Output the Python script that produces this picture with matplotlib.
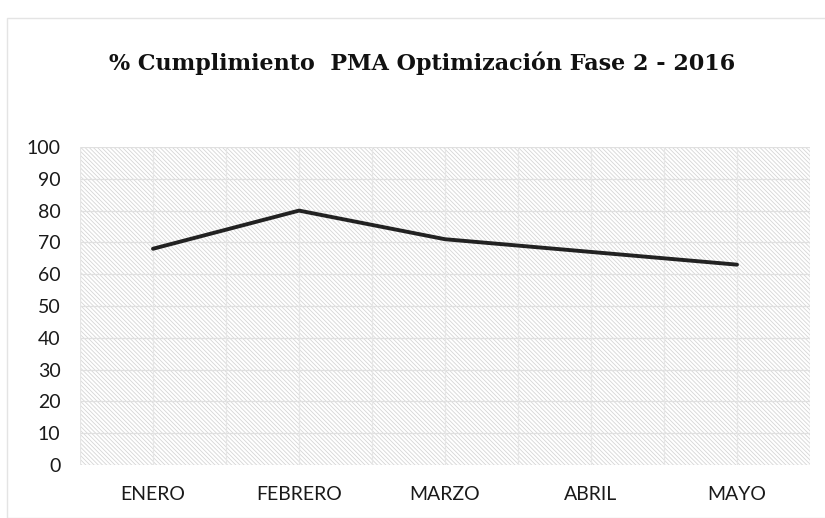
import matplotlib.pyplot as plt
from matplotlib.patches import Rectangle

# data
meses = ['ENERO', 'FEBRERO', 'MARZO', 'ABRIL', 'MAYO']
cumplimiento = [68, 80, 71, 67, 63]
y_ticks = [0, 10, 20, 30, 40, 50, 60, 70, 80, 90, 100]

titulo = '% Cumplimiento  PMA Optimización Fase 2 - 2016'

plt.rcParams['hatch.linewidth'] = 0.6
plt.rcParams['hatch.color'] = '#d6d6d6'

fig = plt.figure(figsize=(8.25, 5.18), dpi=100)
fig.patches.append(Rectangle((7 / 825, 0.0), 1.0, 1 - 18 / 518, transform=fig.transFigure,
                             fill=False, edgecolor='#e4e4e4', linewidth=1.0))
ax = fig.add_axes([80 / 825, 53 / 518, 730 / 825, 318 / 518])

x = list(range(len(meses)))
ax.set_xlim(-0.5, len(meses) - 0.5)
ax.set_ylim(0, 100)

# fondo rayado
ax.add_patch(Rectangle((0, 0), 1, 1, transform=ax.transAxes, facecolor='white',
                       edgecolor='#d6d6d6', linewidth=0, hatch='\\\\\\\\\\\\\\\\', zorder=0))

# rejilla
for yv in y_ticks:
    ax.axhline(yv, color='#e0e0e0', linewidth=0.9, zorder=1)
for xv in [i - 0.5 for i in range(len(meses) + 1)] + x:
    ax.axvline(xv, color='#e6e6e6', linewidth=0.9, zorder=1)

ax.plot(x, cumplimiento, color='#222222', linewidth=2.8, solid_capstyle='round', zorder=3)

ax.set_xticks(x)
ax.set_xticklabels(meses, fontsize=14, family='Lato', color='#1a1a1a')
ax.set_yticks(y_ticks)
ax.set_yticklabels([str(v) for v in y_ticks], fontsize=14, family='Lato', color='#1a1a1a')
ax.tick_params(length=0)
ax.tick_params(axis='x', pad=15)
ax.tick_params(axis='y', pad=14)
for s in ax.spines.values():
    s.set_visible(False)

fig.text(0.512, 1 - 63 / 518, titulo, ha='center', va='center', fontsize=16,
         fontweight='bold', family='DejaVu Serif', color='#111111')

fig.savefig('out.png', dpi=100)
